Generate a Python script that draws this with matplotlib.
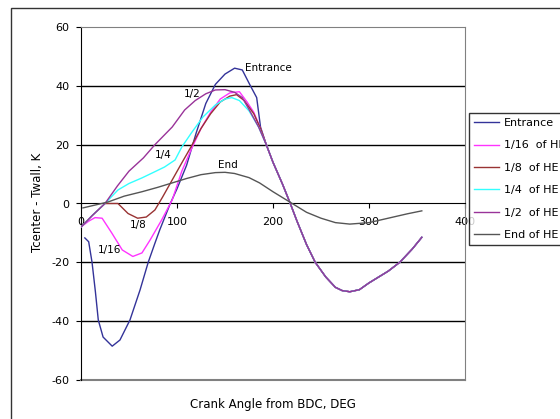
import matplotlib
matplotlib.use("Agg")
import matplotlib.pyplot as plt
from matplotlib.patches import Rectangle

plt.rcParams["font.family"] = ["DejaVu Sans"]
plt.rcParams["axes.unicode_minus"] = False

# ── Data: temperature difference vs crank angle at stations along the HE ──────
# shared fall after the peak (all stations except End collapse onto it)
tail_x = [193, 200, 210, 218, 225, 235, 244, 255, 265, 272, 280, 290, 300, 310, 320, 332, 345, 355]
tail_y = [20, 14, 6.5, 0, -6, -14, -20, -25, -28.5, -29.6, -30, -29.3, -27, -25, -23, -20, -15.5, -11.5]

entrance_x = [4, 8, 11.5, 15, 18, 23, 32.5, 40.6, 51, 61.5, 70, 77, 82, 93, 100, 110, 120, 130,
              140, 150, 160, 168, 176, 183, 187] + tail_x
entrance_y = [-11.7, -13, -20, -30, -39.6, -45.4, -48.5, -46.4, -39.6, -29.4, -20, -13.5, -9, 0,
              5, 13, 24, 34, 40.5, 44, 46, 45.4, 40.3, 36, 26] + tail_y

he16_x = [0, 8, 14.6, 22, 32, 43, 54, 63.5, 72, 84, 95, 105, 115, 125, 135, 145, 155, 165,
          173, 180, 187] + tail_x
he16_y = [-8, -6, -4.8, -5, -10, -15.8, -18, -16.8, -12.4, -5.6, 1.2, 11, 18.5, 25.5, 31, 35.5,
          37.6, 38, 34.5, 31, 25.5] + tail_y

he8_x = [0, 12, 25, 38.5, 49, 59, 68, 77, 85, 95, 105, 115, 125, 135, 145, 155, 162, 170,
         180, 187] + tail_x
he8_y = [-8, -4, 0, 0, -3.4, -5, -4.6, -2.2, 2.2, 8, 13.8, 19.5, 25.5, 30.5, 34.5, 36.5, 37,
         35, 30.5, 25.5] + tail_y

he4_x = [0, 12, 25, 38.5, 50, 63.5, 75, 87, 98, 105, 115, 127, 140, 150, 157, 165, 175,
         185] + tail_x
he4_y = [-8, -4, 0, 4.6, 6.8, 8.7, 10.5, 12.4, 14.8, 19.2, 24, 29.4, 33.5, 35.5, 36, 35,
         31.5, 26] + tail_y

he2_x = [0, 12, 25, 38, 50, 65, 77, 95, 108, 119, 130, 140, 150, 160, 168, 175, 185] + tail_x
he2_y = [-8, -4, 0, 6, 11, 15.5, 20, 26, 31.8, 35, 37.3, 38.6, 38.7, 37.8, 36, 32, 26] + tail_y

end_x = [2, 15, 28, 45, 63.5, 80, 95, 110, 125, 140, 150, 160, 175, 186, 200, 210, 220, 235,
         250, 265, 280, 300, 320, 340, 355]
end_y = [-1.5, -0.5, 0.5, 2.5, 4, 5.5, 7, 8.5, 9.8, 10.5, 10.6, 10.2, 8.8, 7, 4, 2, 0, -3,
         -5, -6.5, -7, -6.5, -5, -3.5, -2.5]

series_labels = ["Entrance", "1/16  of HE", "1/8  of HE", "1/4  of HE", "1/2  of HE", "End of HE"]
series_colors = ["#333399", "#ff33ff", "#993333", "#33ffff", "#993399", "#555555"]

x_ticks = [0, 100, 200, 300, 400]
y_ticks = [-60, -40, -20, 0, 20, 40, 60]

# ── Figure ────────────────────────────────────────────────────────────────────
fig = plt.figure(figsize=(5.6, 4.19), dpi=100)
fig.patch.set_facecolor("white")

# outer chart border
fig.patches.append(Rectangle((11 / 560, -0.1), 1.2, 1 - 8 / 419 + 0.1, transform=fig.transFigure,
                             fill=False, edgecolor="#333333", linewidth=1.0, zorder=0))

ax = fig.add_axes([81 / 560, 1 - 380 / 419, 384 / 560, 353 / 419])
ax.set_xlim(0, 400)
ax.set_ylim(-60, 60)

# gridlines
for yv in [-40, -20, 20, 40]:
    ax.axhline(yv, color="black", linewidth=1.0, zorder=1)

all_x = [entrance_x, he16_x, he8_x, he4_x, he2_x, end_x]
all_y = [entrance_y, he16_y, he8_y, he4_y, he2_y, end_y]
for xs, ys, lab, col in zip(all_x, all_y, series_labels, series_colors):
    ax.plot(xs, ys, color=col, linewidth=1.0, label=lab, zorder=3)

# spines: y axis black, x axis through zero, gray plot-area border
ax.spines["left"].set_color("black")
ax.spines["bottom"].set_position(("data", 0))
ax.spines["bottom"].set_color("black")
ax.spines["top"].set_color("#808080")
ax.spines["right"].set_color("#808080")
ax.axhline(-60, color="#808080", linewidth=1.5, zorder=2, clip_on=False)

ax.set_xticks(x_ticks)
ax.set_xticklabels([str(v) for v in x_ticks])
ax.set_yticks(y_ticks)
ax.set_yticklabels([str(v) for v in y_ticks])
ax.tick_params(axis="both", labelsize=8, length=3.5, width=0.8, direction="out", color="black")
ax.tick_params(axis="x", pad=6.5)
ax.tick_params(axis="y", pad=5)

# curve annotations
ax.text(171, 46.1, "Entrance", fontsize=7.5, ha="left", va="center")
ax.text(115.6, 37.2, "1/2", fontsize=7.5, ha="center", va="center")
ax.text(85.4, 16.5, "1/4", fontsize=7.5, ha="center", va="center")
ax.text(153, 13.1, "End", fontsize=7.5, ha="center", va="center")
ax.text(59.5, -7.3, "1/8", fontsize=7.5, ha="center", va="center")
ax.text(30, -15.8, "1/16", fontsize=7.5, ha="center", va="center")

fig.text(37 / 560, 1 - 202 / 419, "Tcenter - Twall, K", rotation=90, fontsize=8.5,
         ha="center", va="center")
fig.text(273 / 560, 1 - 404 / 419, "Crank Angle from BDC, DEG", fontsize=8.5,
         ha="center", va="center")

leg = fig.legend(loc="upper left", bbox_to_anchor=(469 / 560, 1 - 113 / 419),
                 fontsize=8, frameon=True, fancybox=False, shadow=False,
                 handlelength=2.25, handletextpad=0.45, labelspacing=1.12,
                 borderpad=0.45, borderaxespad=0)
leg.get_frame().set_edgecolor("black")
leg.get_frame().set_linewidth(1.0)
leg.set_zorder(10)

fig.savefig("out.png", dpi=100)
